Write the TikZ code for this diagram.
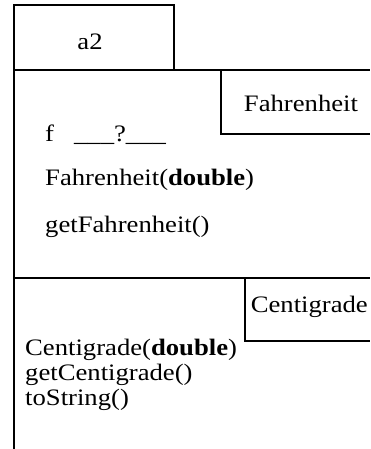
\documentclass[tikz,border=0pt]{standalone}
\usepackage{fontspec}
\setmainfont[FakeStretch=1.13]{Liberation Serif}
\begin{document}
\begin{tikzpicture}[x=1pt,y=-1pt,
  ln/.style={line width=1.3pt},
  txt/.style={inner sep=0pt,font=\fontsize{23.6}{28}\selectfont}]
\useasboundingbox (0,0) rectangle (370,449);
% frame lines
\draw[ln] (14,449) -- (14,5) -- (174,5) -- (174,70);
\draw[ln] (14,70) -- (370,70);
\draw[ln] (221,70) -- (221,134) -- (370,134);
\draw[ln] (14,278) -- (370,278);
\draw[ln] (245,278) -- (245,341) -- (370,341);
% texts
\node[txt,anchor=base] (a2) at (90,50) {a2};
\node[txt,anchor=base] (fahr) at (301,112) {Fahrenheit};
\node[txt,anchor=base west] (f) at (45,142) {f\hspace{0.85em}\_\_\_?\_\_\_};
\node[txt,anchor=base west] (fd) at (45,185) {Fahrenheit(\textbf{double})};
\node[txt,anchor=base west] (gf) at (45,232) {getFahrenheit()};
\node[txt,anchor=base east] (cent) at (368,312) {Centigrade};
\node[txt,anchor=base west] (cd) at (25,355) {Centigrade(\textbf{double})};
\node[txt,anchor=base west] (gc) at (25,380) {getCentigrade()};
\node[txt,anchor=base west] (ts) at (25,405) {toString()};
\end{tikzpicture}
\end{document}
